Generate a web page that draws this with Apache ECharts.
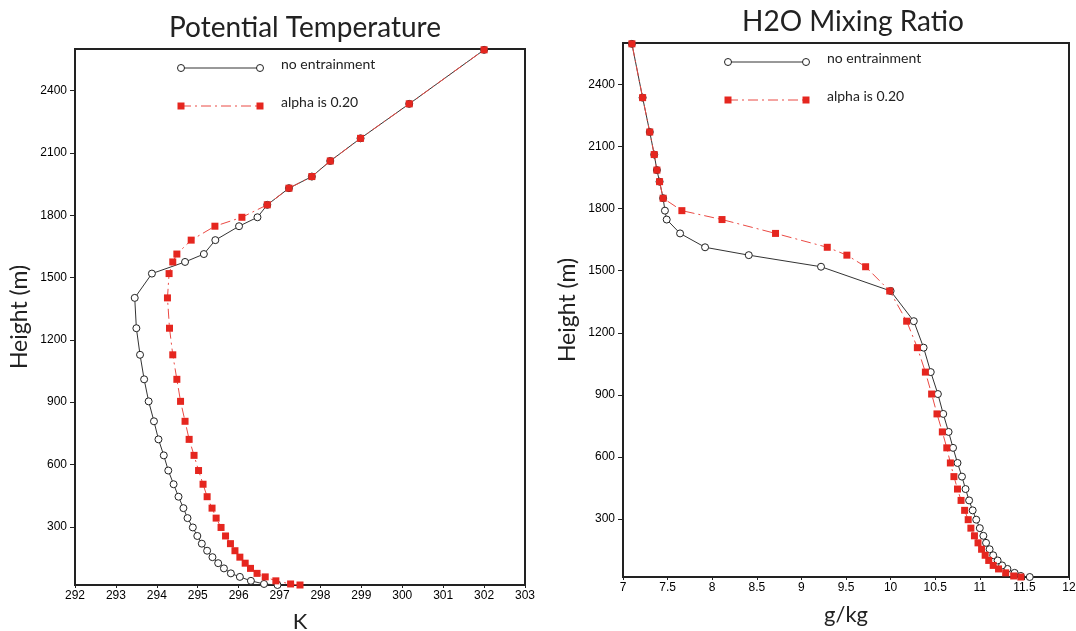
<!DOCTYPE html>
<html>
<head>
<meta charset="utf-8">
<script src="https://cdn.jsdelivr.net/npm/echarts@6/dist/echarts.min.js"></script>
<style>
  html, body { margin: 0; padding: 0; background: #fff; }
  #chart { width: 1076px; height: 631px; }
</style>
</head>
<body>
<div id="chart"></div>
<script>
// model levels (m), bottom to top
const heights = [20, 25, 40, 59, 76, 100, 125, 154, 185, 219, 256, 297, 342, 390, 445, 505, 571, 644, 721, 808,
                 904, 1010, 1128, 1256, 1402, 1519, 1575, 1613, 1680, 1747, 1790, 1850, 1930, 1986, 2061, 2170, 2336, 2596];

// potential temperature (K)
const thetaNoEnt = [296.95, 296.62, 296.30, 296.03, 295.81, 295.64, 295.50, 295.36, 295.23, 295.10, 294.99, 294.88, 294.75, 294.65, 294.53, 294.41, 294.28, 294.17, 294.04, 293.93,
                    293.80, 293.69, 293.59, 293.50, 293.46, 293.88, 294.69, 295.15, 295.43, 296.01, 296.46, 296.70, 297.23, 297.79, 298.24, 298.98, 300.17, 302.00];
const thetaAlpha = [297.50, 297.27, 296.91, 296.65, 296.45, 296.29, 296.16, 296.03, 295.91, 295.80, 295.68, 295.57, 295.45, 295.35, 295.23, 295.13, 295.02, 294.91, 294.79, 294.69,
                    294.58, 294.49, 294.39, 294.31, 294.26, 294.30, 294.39, 294.49, 294.84, 295.42, 296.08, 296.70, 297.23, 297.79, 298.24, 298.98, 300.17, 302.00];

// H2O mixing ratio (g/kg)
const qNoEnt = [11.56, 11.46, 11.39, 11.31, 11.25, 11.20, 11.15, 11.11, 11.07, 11.04, 11.00, 10.96, 10.92, 10.88, 10.84, 10.80, 10.75, 10.70, 10.65, 10.59,
                10.53, 10.45, 10.37, 10.26, 10.00, 9.22, 8.41, 7.92, 7.64, 7.49, 7.47, 7.45, 7.41, 7.38, 7.35, 7.30, 7.22, 7.10];
const qAlpha = [11.46, 11.38, 11.29, 11.21, 11.15, 11.10, 11.06, 11.02, 10.98, 10.94, 10.90, 10.87, 10.83, 10.79, 10.75, 10.71, 10.67, 10.63, 10.58, 10.52,
                10.46, 10.39, 10.30, 10.18, 9.99, 9.72, 9.51, 9.29, 8.71, 8.11, 7.66, 7.45, 7.41, 7.38, 7.35, 7.30, 7.22, 7.10];

const heightTicks = [300, 600, 900, 1200, 1500, 1800, 2100, 2400];
const legendNames = ['no entrainment', 'alpha is 0.20'];

const chart = echarts.init(document.getElementById('chart'));

const lightFont = 'Lato, "Open Sans", sans-serif';
const tickFont = '"Liberation Sans", Arial, sans-serif';
const red = '#e5261f';

function pairs(xs) {
    return xs.map((x, i) => [x, heights[i]]);
}

function xAxisOf(idx, min, max, interval, name) {
    return {
        gridIndex: idx, type: 'value', min: min, max: max, interval: interval,
        name: name, nameLocation: 'middle', nameGap: idx === 0 ? 26 : 27,
        nameTextStyle: { fontFamily: lightFont, fontSize: 22, color: '#222' },
        axisLine: { lineStyle: { color: '#222', width: 2 } },
        axisTick: { length: 3, lineStyle: { color: '#222' } },
        axisLabel: { fontFamily: tickFont, fontSize: 12, color: '#000', margin: 5 },
        splitLine: { show: false }
    };
}

function yAxisOf(idx) {
    return {
        gridIndex: idx, type: 'value', min: 20, max: 2600,
        name: 'Height (m)', nameLocation: 'middle', nameGap: 44, nameRotate: 90,
        nameTextStyle: { fontFamily: lightFont, fontSize: 23, color: '#222' },
        axisLine: { lineStyle: { color: '#222', width: 2 } },
        axisTick: { length: 5, customValues: heightTicks, lineStyle: { color: '#222' } },
        axisLabel: { fontFamily: tickFont, fontSize: 12, color: '#000', margin: 8, customValues: heightTicks,
                     formatter: v => String(v) },
        splitLine: { show: false }
    };
}

function noEntSeries(idx, xs) {
    return {
        name: legendNames[0], type: 'line', xAxisIndex: idx, yAxisIndex: idx,
        data: pairs(xs), symbol: 'circle', symbolSize: 7,
        itemStyle: { color: '#fff', borderColor: '#222', borderWidth: 1 },
        lineStyle: { color: '#333', width: 1 }
    };
}

function alphaSeries(idx, xs) {
    return {
        name: legendNames[1], type: 'line', xAxisIndex: idx, yAxisIndex: idx,
        data: pairs(xs), symbol: 'rect', symbolSize: 7,
        itemStyle: { color: red },
        lineStyle: { color: '#ea4a44', width: 1, type: [10, 4, 2, 4] }
    };
}

// hand drawn legend like the original (line with markers at both ends)
function legendBlock(x0, x1, y0, y1) {
    const out = [];
    out.push({ type: 'line', shape: { x1: x0, y1: y0, x2: x1, y2: y0 }, style: { stroke: '#333', lineWidth: 1 } });
    [x0, x1].forEach(x => out.push({ type: 'circle', shape: { cx: x, cy: y0, r: 3.5 }, style: { fill: '#fff', stroke: '#222', lineWidth: 1 } }));
    out.push({ type: 'text', x: x1 + 21, y: y0 - 4, style: { text: legendNames[0], font: '14px ' + lightFont, fill: '#222', verticalAlign: 'middle' } });
    out.push({ type: 'line', shape: { x1: x0, y1: y1, x2: x1, y2: y1 }, style: { stroke: '#ea4a44', lineWidth: 1, lineDash: [10, 4, 2, 4] } });
    [x0, x1].forEach(x => out.push({ type: 'rect', shape: { x: x - 3.5, y: y1 - 3.5, width: 7, height: 7 }, style: { fill: red } }));
    out.push({ type: 'text', x: x1 + 21, y: y1 - 4, style: { text: legendNames[1], font: '14px ' + lightFont, fill: '#222', verticalAlign: 'middle' } });
    return out;
}

const option = {
    animation: false,
    backgroundColor: '#fff',
    title: [
        { text: 'Potential Temperature', left: 300, top: 9, textAlign: 'center',
          textStyle: { fontFamily: lightFont, fontSize: 28, fontWeight: 'normal', color: '#222' } },
        { text: 'H2O Mixing Ratio', left: 848, top: 3, textAlign: 'center',
          textStyle: { fontFamily: lightFont, fontSize: 28, fontWeight: 'normal', color: '#222' } }
    ],
    grid: [
        { left: 75, top: 49, width: 450, height: 536, show: true, borderColor: '#222', borderWidth: 2, outerBoundsMode: 'none' },
        { left: 623, top: 43, width: 446, height: 534, show: true, borderColor: '#222', borderWidth: 2, outerBoundsMode: 'none' }
    ],
    xAxis: [
        xAxisOf(0, 292, 303, 1, 'K'),
        xAxisOf(1, 7, 12, 0.5, 'g/kg')
    ],
    yAxis: [yAxisOf(0), yAxisOf(1)],
    series: [
        noEntSeries(0, thetaNoEnt),
        alphaSeries(0, thetaAlpha),
        noEntSeries(1, qNoEnt),
        alphaSeries(1, qAlpha)
    ],
    graphic: legendBlock(181, 260, 68, 106).concat(legendBlock(728, 806, 62, 100))
};

chart.setOption(option);
</script>
</body>
</html>
